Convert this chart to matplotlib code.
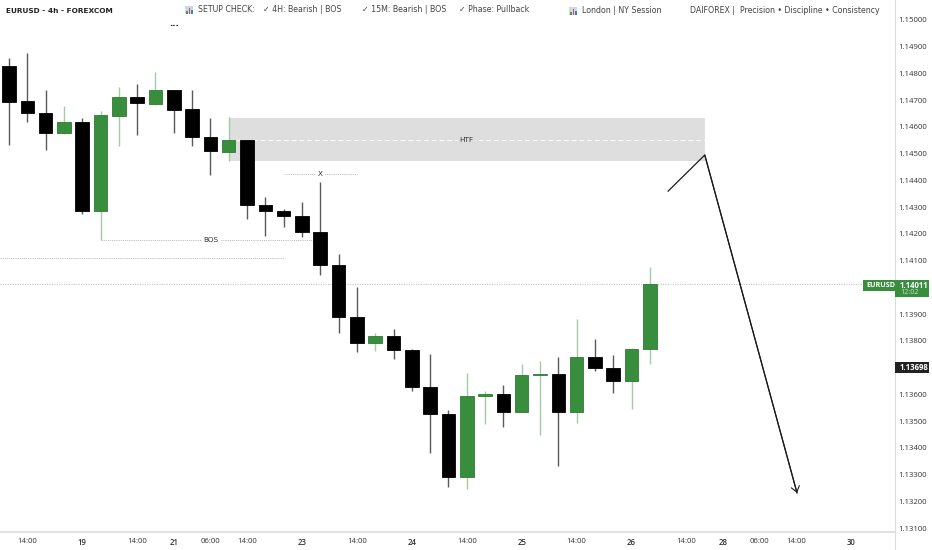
import matplotlib
matplotlib.use('Agg')
import matplotlib.pyplot as plt
from matplotlib.patches import Rectangle

# candles
opens = [1.14828, 1.14697, 1.14652, 1.14579, 1.14620, 1.14286, 1.14641, 1.14712, 1.14686,
         1.14738, 1.14667, 1.14562, 1.14508, 1.14551, 1.14308, 1.14286, 1.14267, 1.14207,
         1.14084, 1.13889, 1.13792, 1.13818, 1.13764, 1.13629, 1.13526, 1.13291, 1.13594,
         1.13601, 1.13534, 1.13672, 1.13676, 1.13534, 1.13740, 1.13697, 1.13648, 1.13770]
highs = [1.14858, 1.14877, 1.14738, 1.14678, 1.14633, 1.14660, 1.14749, 1.14761, 1.14806,
         1.14738, 1.14738, 1.14633, 1.14637, 1.14551, 1.14338, 1.14293, 1.14319, 1.14394,
         1.14125, 1.14001, 1.13829, 1.13844, 1.13770, 1.13751, 1.13541, 1.13680, 1.13612,
         1.13635, 1.13713, 1.13725, 1.13740, 1.13882, 1.13807, 1.13747, 1.13773, 1.14076]
lows = [1.14532, 1.14619, 1.14514, 1.14574, 1.14274, 1.14177, 1.14529, 1.14570, 1.14682,
        1.14577, 1.14529, 1.14420, 1.14473, 1.14256, 1.14192, 1.14226, 1.14188, 1.14046,
        1.13829, 1.13758, 1.13762, 1.13732, 1.13612, 1.13381, 1.13253, 1.13246, 1.13489,
        1.13478, 1.13534, 1.13448, 1.13332, 1.13493, 1.13687, 1.13605, 1.13545, 1.13713]
closes = [1.14693, 1.14652, 1.14579, 1.14620, 1.14286, 1.14645, 1.14712, 1.14690, 1.14738,
          1.14665, 1.14562, 1.14510, 1.14551, 1.14308, 1.14286, 1.14267, 1.14207, 1.14084,
          1.13889, 1.13792, 1.13818, 1.13764, 1.13629, 1.13526, 1.13291, 1.13594, 1.13601,
          1.13534, 1.13672, 1.13676, 1.13534, 1.13740, 1.13697, 1.13648, 1.13770, 1.14011]

# axis ticks
y_ticks = [1.150, 1.149, 1.148, 1.147, 1.146, 1.145, 1.144, 1.143, 1.142, 1.141,
           1.139, 1.138, 1.136, 1.135, 1.134, 1.133, 1.132, 1.131]
x_ticks = [1, 4, 7, 9, 11, 13, 16, 19, 22, 25, 28, 31, 34, 37, 39, 41, 43, 46]
x_labels = ['14:00', '19', '14:00', '21', '06:00', '14:00', '23', '14:00', '24',
            '14:00', '25', '14:00', '26', '14:00', '28', '06:00', '14:00', '30']
bold_labels = ['19', '21', '23', '24', '25', '26', '28', '30']

# drawings
zone_x = [12, 38]
zone_y = [1.14473, 1.14633]
path_x = [36, 38, 43.04]
path_y = [1.14360, 1.14495, 1.13231]
last_price = 1.14011
bos_level = 1.14177
x_level = 1.14424
old_level = 1.14110

GREEN = '#388e3c'
BLACK = '#000000'
GRID = '#d9dce1'

plt.rcParams['font.family'] = 'DejaVu Sans'
fig = plt.figure(figsize=(9.32, 5.5), dpi=100)
ax = fig.add_axes([0, 18 / 550, 895 / 932, 532 / 550])

# wicks and bodies
for i in range(len(opens)):
    up = closes[i] >= opens[i]
    wick = '#a3cba5' if up else '#5a5a5a'
    ax.plot([i, i], [lows[i], highs[i]], color=wick, lw=1, zorder=2, solid_capstyle='butt')
    bottom = min(opens[i], closes[i])
    height = abs(closes[i] - opens[i])
    ax.bar(i, height, bottom=bottom, width=0.74, color=GREEN if up else BLACK,
           edgecolor='#2e7d32' if up else BLACK, linewidth=0.6, zorder=3)

# HTF zone
ax.add_patch(Rectangle((zone_x[0], zone_y[0]), zone_x[1] - zone_x[0], zone_y[1] - zone_y[0],
                       facecolor='#dedede', edgecolor='none', zorder=1))
mid = (zone_y[0] + zone_y[1]) / 2
ax.plot(zone_x, [mid, mid], color='white', lw=0.7, ls=(0, (5, 3)), zorder=1.5)
ax.text(25, mid, 'HTF', fontsize=5.2, color='#333333', ha='center', va='center', zorder=4,
        bbox=dict(facecolor='#dedede', edgecolor='none', pad=1))

# levels
dots = (0, (1, 1.2))
ax.axhline(last_price, color='#c4c4c4', lw=0.8, ls=dots, zorder=1)
ax.plot([5, 17], [bos_level, bos_level], color='#b4b4b4', lw=0.7, ls=dots, zorder=1)
ax.text(11, bos_level, 'BOS', fontsize=5.2, color='#333333', ha='center', va='center', zorder=4,
        bbox=dict(facecolor='white', edgecolor='none', pad=1.2))
ax.plot([15, 19], [x_level, x_level], color='#b4b4b4', lw=0.7, ls=dots, zorder=1)
ax.text(17, x_level, 'X', fontsize=5.2, color='#333333', ha='center', va='center', zorder=4,
        bbox=dict(facecolor='white', edgecolor='none', pad=1.2))
ax.plot([-0.5, 15], [old_level, old_level], color='#b4b4b4', lw=0.7, ls=dots, zorder=1)

# projected move
ax.plot(path_x, path_y, color='#1a1a1a', lw=0.9, zorder=4)
ax.annotate('', xy=(path_x[2], path_y[2]), xytext=(path_x[1], path_y[1]),
            arrowprops=dict(arrowstyle='->,head_length=0.4,head_width=0.3', color='#1a1a1a', lw=0.8,
                            shrinkA=0, shrinkB=0), zorder=4)

ax.set_xlim(-0.4915, 48.39)
ax.set_ylim(1.130851, 1.150748)
ax.yaxis.tick_right()
ax.set_yticks(y_ticks)
ax.set_yticklabels([f'{v:.5f}' for v in y_ticks], fontsize=5.6, color='#333333', family='Open Sans')
ax.set_xticks(x_ticks)
ax.set_xticklabels(x_labels, fontsize=5.6, color='#333333', family='Open Sans')
for lab in ax.get_xticklabels():
    if lab.get_text() in bold_labels:
        lab.set_fontweight('semibold')
ax.tick_params(axis='both', length=0)
ax.tick_params(axis='y', pad=2.5)
ax.tick_params(axis='x', pad=4)
for side in ['top', 'left']:
    ax.spines[side].set_visible(False)
ax.spines['right'].set_color(GRID)
ax.spines['bottom'].set_color(GRID)
ax.spines['bottom'].set_linewidth(1.2)
fig.add_artist(plt.Line2D([895 / 932, 895 / 932], [0, 18 / 550], color=GRID, lw=0.8))


def px(x, y):
    return x / 932, 1 - y / 550


def top_text(x, y, s, **kw):
    kw.setdefault('fontsize', 5.7)
    kw.setdefault('color', '#444444')
    fig.text(*px(x, y), s, va='center', ha='left', **kw)


def chart_icon(x, y):
    fig.add_artist(Rectangle(px(x, y + 8), 8 / 932, 8 / 550, transform=fig.transFigure,
                             facecolor='#cfd8dc', edgecolor='none'))
    for dx, h, c in [(1, 3, '#43a047'), (3.5, 6, '#e0457b'), (6, 4, '#3f7fd0')]:
        fig.add_artist(Rectangle(px(x + dx, y + 8), 1.6 / 932, h / 550, transform=fig.transFigure,
                                 facecolor=c, edgecolor='none'))


top_text(6, 11, 'EURUSD - 4h - FOREXCOM', fontsize=5.3, fontweight='bold', color='#222222')
chart_icon(185, 6)
top_text(198, 10, 'SETUP CHECK:')
top_text(263, 10, '✓ 4H: Bearish | BOS')
top_text(362, 10, '✓ 15M: Bearish | BOS')
top_text(459, 10, '✓ Phase: Pullback')
chart_icon(569, 7)
top_text(582, 10.5, 'London | NY Session')
top_text(690, 10.5, 'DAIFOREX |  Precision • Discipline • Consistency')
top_text(169, 24, '...', fontsize=6, fontweight='bold', color='#222222')

# price tags on the axis
fig.add_artist(Rectangle(px(863, 291), 32 / 932, 11 / 550, transform=fig.transFigure,
                         facecolor=GREEN, edgecolor='none'))
fig.add_artist(Rectangle(px(895, 297), 34 / 932, 17 / 550, transform=fig.transFigure,
                         facecolor=GREEN, edgecolor='none'))
fig.add_artist(Rectangle(px(895, 373), 34 / 932, 11 / 550, transform=fig.transFigure,
                         facecolor='#222222', edgecolor='none'))
top_text(866, 285.5, 'EURUSD', fontsize=5.2, color='white', fontweight='bold', family='Open Sans')
top_text(900, 285, '1.14011', fontsize=5.6, color='white', fontweight='bold', family='Open Sans')
top_text(900, 292.5, '12:02', fontsize=5.2, color='#c8e6c9', family='Open Sans')
top_text(900, 368, '1.13698', fontsize=5.6, color='white', fontweight='bold', family='Open Sans')

fig.savefig('out.png', dpi=100)
